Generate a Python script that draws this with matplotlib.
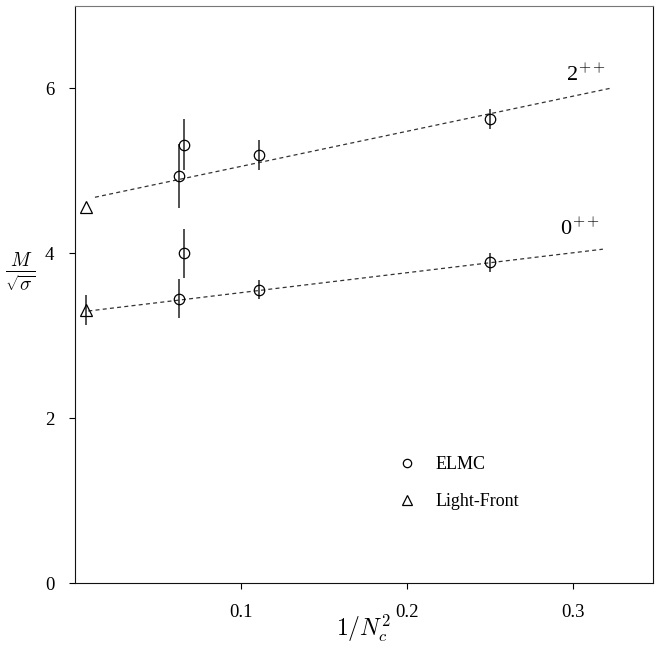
import matplotlib

matplotlib.use("Agg")
import matplotlib.pyplot as plt

# ELMC lattice points (x = 1/Nc^2)
elmc_x_2 = [0.0625, 0.0657, 0.1111, 0.25]
elmc_y_2 = [4.94, 5.32, 5.19, 5.63]
elmc_e_2 = [0.39, 0.31, 0.18, 0.12]

elmc_x_0 = [0.0625, 0.0657, 0.1111, 0.25]
elmc_y_0 = [3.45, 4.00, 3.56, 3.89]
elmc_e_0 = [0.24, 0.30, 0.12, 0.115]

# Light-front points
lf_x = [0.0065, 0.0065]
lf_y = [4.56, 3.31]
lf_e = [0.0, 0.18]

# dashed fit lines (end points)
fit_x_2 = [0.012, 0.322]
fit_y_2 = [4.68, 6.00]
fit_x_0 = [0.008, 0.318]
fit_y_0 = [3.30, 4.05]

plt.rcParams.update(
    {
        "font.family": ["Liberation Serif", "DejaVu Serif"],
        "mathtext.fontset": "cm",
        "font.size": 12,
    }
)

fig = plt.figure(figsize=(6.64, 6.48), dpi=100)
ax = fig.add_axes([0.113, 0.1003, 0.870, 0.8904])

ax.plot(fit_x_2, fit_y_2, ls=(0, (3.2, 2.6)), color="#333333", lw=0.9)
ax.plot(fit_x_0, fit_y_0, ls=(0, (3.2, 2.6)), color="#333333", lw=0.9)

for xs, ys, es in ((elmc_x_2, elmc_y_2, elmc_e_2), (elmc_x_0, elmc_y_0, elmc_e_0)):
    ax.errorbar(xs, ys, yerr=es, fmt="o", ms=7.5, mfc="none", mec="black",
                mew=0.9, ecolor="#222222", elinewidth=1.1, capsize=0)
ax.errorbar(lf_x, lf_y, yerr=lf_e, fmt="^", ms=8, mfc="none", mec="black",
            mew=0.9, ecolor="#222222", elinewidth=1.1, capsize=0)

ax.text(0.296, 6.16, r"2$^{++}$", fontsize=16, ha="left", va="center")
ax.text(0.292, 4.30, r"0$^{++}$", fontsize=16, ha="left", va="center")

ax.set_xlim(0, 0.348)
ax.set_ylim(0, 7)
ax.set_xticks([0.1, 0.2, 0.3])
ax.set_xticklabels(["0.1", "0.2", "0.3"])
ax.set_yticks([0, 2, 4, 6])
ax.tick_params(direction="out", length=4, width=0.8, pad=11, labelsize=13.5,
               top=False, right=False)
for side in ("left", "bottom", "right"):
    ax.spines[side].set_color("#111111")
ax.spines["top"].set_color("#777777")

ax.set_xlabel(r"$1/N_c^2$", fontsize=17, va="center")
ax.xaxis.set_label_coords(0.5, -0.078)
ax.set_ylabel(r"$\frac{M}{\sqrt{\sigma}}$", fontsize=20, rotation=0,
              ha="center", va="center")
ax.yaxis.set_label_coords(-0.095, 0.54)

h_c, = ax.plot([], [], "o", ms=6, mfc="none", mec="black", mew=0.9)
h_t, = ax.plot([], [], "^", ms=6.5, mfc="none", mec="black", mew=0.9)
ax.legend([h_c, h_t], ["ELMC", "Light-Front"], loc="upper left",
          bbox_to_anchor=(0.543, 0.235), frameon=False, borderpad=0,
          handlelength=1.0, handletextpad=1.1, labelspacing=1.1,
          fontsize=13, numpoints=1)

fig.savefig("out.png", dpi=100)
